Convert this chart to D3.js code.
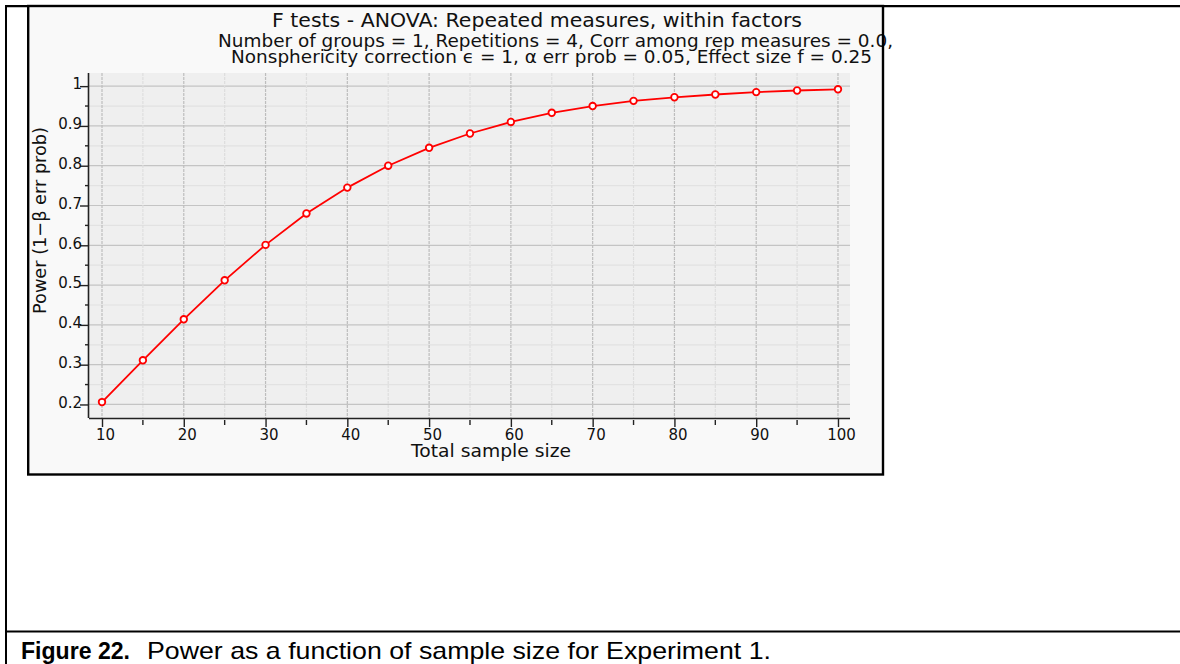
<!DOCTYPE html>
<html>
<head>
<meta charset="utf-8">
<script src="https://cdn.jsdelivr.net/npm/d3@7"></script>
<style>
body{ margin:0; background:#fff; }
svg{ display:block; }
.chart text{ font-family:"DejaVu Sans", sans-serif; fill:#111; }
</style>
</head>
<body>
<svg id="page" width="1180" height="664"></svg>
<script>
var sampleSize = [10, 15, 20, 25, 30, 35, 40, 45, 50, 55, 60, 65, 70, 75, 80, 85, 90, 95, 100];
var power = [0.206, 0.311, 0.414, 0.512, 0.601, 0.680, 0.745, 0.800, 0.845, 0.881, 0.910, 0.933, 0.950, 0.963, 0.972, 0.979, 0.985, 0.989, 0.992];

var xTicks = [10, 20, 30, 40, 50, 60, 70, 80, 90, 100];
var xTickLabels = ['10', '20', '30', '40', '50', '60', '70', '80', '90', '100'];
var xMinor = [15, 25, 35, 45, 55, 65, 75, 85, 95];
var yTicks = [0.2, 0.3, 0.4, 0.5, 0.6, 0.7, 0.8, 0.9, 1];
var yTickLabels = ['0.2', '0.3', '0.4', '0.5', '0.6', '0.7', '0.8', '0.9', '1'];
var yMinor = [0.25, 0.35, 0.45, 0.55, 0.65, 0.75, 0.85, 0.95];

var titleLines = [
	'F tests - ANOVA: Repeated measures, within factors',
	'Number of groups = 1, Repetitions = 4, Corr among rep measures = 0.0,',
	'Nonsphericity correction \u03f5 = 1, \u03b1 err prob = 0.05, Effect size f = 0.25'
];
var xTitle = 'Total sample size';
var yTitle = 'Power (1\u2212\u03b2 err prob)';
var captionBold = 'Figure 22.';
var captionText = 'Power as a function of sample size for Experiment 1.';

var svg = d3.select('#page');

// page frame (table cell lines)
svg.append('line').attr('x1', 6).attr('x2', 1180).attr('y1', 6.2).attr('y2', 6.2)
	.attr('stroke', '#000').attr('stroke-width', 2.2);
svg.append('line').attr('x1', 6).attr('x2', 6).attr('y1', 5).attr('y2', 664)
	.attr('stroke', '#000').attr('stroke-width', 2);
svg.append('line').attr('x1', 6).attr('x2', 1180).attr('y1', 631.5).attr('y2', 631.5)
	.attr('stroke', '#000').attr('stroke-width', 2.2);

var chart = svg.append('g').attr('class', 'chart');
chart.append('rect').attr('x', 28).attr('y', 7).attr('width', 855).attr('height', 467.5)
	.attr('fill', '#f9f9f9');

var plot = {left: 89, right: 850, top: 73, bottom: 418};
var xScale = d3.scaleLinear().domain([8.41, 101.47]).range([plot.left, plot.right]);
var yScale = d3.scaleLinear().domain([0.166, 1.033]).range([plot.bottom, plot.top]);

chart.append('rect').attr('x', plot.left).attr('y', plot.top)
	.attr('width', plot.right - plot.left).attr('height', plot.bottom - plot.top)
	.attr('fill', '#efefef');

//Grid lines
var grid = chart.append('g');
grid.selectAll('line.hmin').data(yMinor).enter().append('line')
	.attr('x1', plot.left).attr('x2', plot.right)
	.attr('y1', function(d){ return yScale(d); }).attr('y2', function(d){ return yScale(d); })
	.attr('stroke', '#e2e2e2').attr('stroke-width', 1.2);
grid.selectAll('line.hmaj').data(yTicks).enter().append('line')
	.attr('x1', plot.left).attr('x2', plot.right)
	.attr('y1', function(d){ return yScale(d); }).attr('y2', function(d){ return yScale(d); })
	.attr('stroke', '#c4c4c4').attr('stroke-width', 1.2);
grid.selectAll('line.vmin').data(xMinor).enter().append('line')
	.attr('y1', plot.top).attr('y2', plot.bottom)
	.attr('x1', function(d){ return xScale(d); }).attr('x2', function(d){ return xScale(d); })
	.attr('stroke', '#dedede').attr('stroke-width', 1.2).attr('stroke-dasharray', '3,1');
grid.selectAll('line.vmaj').data(xTicks).enter().append('line')
	.attr('y1', plot.top).attr('y2', plot.bottom)
	.attr('x1', function(d){ return xScale(d); }).attr('x2', function(d){ return xScale(d); })
	.attr('stroke', '#bdbdbd').attr('stroke-width', 1.2).attr('stroke-dasharray', '3,1');

// curve + markers
var pts = sampleSize.map(function(d, i){ return {n: d, p: power[i]}; });
var line = d3.line().x(function(d){ return xScale(d.n); }).y(function(d){ return yScale(d.p); });
chart.append('path').datum(pts).attr('d', line)
	.attr('fill', 'none').attr('stroke', '#ff0000').attr('stroke-width', 1.8);
chart.selectAll('circle').data(pts).enter().append('circle')
	.attr('cx', function(d){ return xScale(d.n); })
	.attr('cy', function(d){ return yScale(d.p); })
	.attr('r', 3.3)
	.attr('fill', '#fff').attr('stroke', '#ff0000').attr('stroke-width', 1.8);

// axes
var xAxis = d3.axisBottom(xScale).tickValues(xTicks).tickSize(9).tickPadding(2)
	.tickFormat(function(d, i){ return xTickLabels[i]; });
var gx = chart.append('g').attr('transform', 'translate(0,' + plot.bottom + ')').call(xAxis);
gx.select('.domain').attr('d', 'M' + plot.left + ',0.5H' + plot.right).attr('stroke', '#222').attr('stroke-width', 1.6);
gx.selectAll('.tick line').attr('stroke', '#222').attr('stroke-width', 1.4);
gx.selectAll('.tick text').attr('dx', 3).style('font-size', '15px').style('font-family', '"DejaVu Sans", sans-serif').attr('fill', '#111');
gx.selectAll('line.minor').data(xMinor).enter().append('line')
	.attr('x1', function(d){ return xScale(d); }).attr('x2', function(d){ return xScale(d); })
	.attr('y1', 2).attr('y2', 7).attr('stroke', '#222').attr('stroke-width', 1.4);

var yAxis = d3.axisLeft(yScale).tickValues(yTicks).tickSize(9).tickPadding(-2)
	.tickFormat(function(d, i){ return yTickLabels[i]; });
var gy = chart.append('g').attr('transform', 'translate(' + plot.left + ',0)').call(yAxis);
gy.select('.domain').attr('d', 'M-0.5,' + plot.top + 'V' + plot.bottom).attr('stroke', '#222').attr('stroke-width', 1.6);
gy.selectAll('.tick line').attr('stroke', '#222').attr('stroke-width', 1.4);
gy.selectAll('.tick text').attr('dy', '0.18em').style('font-size', '15px').style('font-family', '"DejaVu Sans", sans-serif').attr('fill', '#111');
gy.selectAll('line.minor').data(yMinor).enter().append('line')
	.attr('x1', -4).attr('x2', 0)
	.attr('y1', function(d){ return yScale(d); }).attr('y2', function(d){ return yScale(d); })
	.attr('stroke', '#222').attr('stroke-width', 1.4);

// titles (Lucida in the original runs wider than DejaVu, so stretch to the same span)
var tpos = [{x: 537, y: 26.5, s: 19.5, w: 530}, {x: 555.5, y: 46.5, s: 17.5, w: 675}, {x: 551.5, y: 63, s: 17.5, w: 641}];
chart.selectAll('text.title').data(titleLines).enter().append('text')
	.attr('class', 'title')
	.attr('x', function(d, i){ return tpos[i].x - tpos[i].w / 2; })
	.attr('y', function(d, i){ return tpos[i].y; })
	.attr('textLength', function(d, i){ return tpos[i].w; })
	.attr('lengthAdjust', 'spacingAndGlyphs')
	.style('font-size', function(d, i){ return tpos[i].s + 'px'; })
	.text(function(d){ return d; });

chart.append('text').attr('x', 411).attr('y', 456.5)
	.attr('textLength', 160).attr('lengthAdjust', 'spacingAndGlyphs')
	.style('font-size', '18px').text(xTitle);
chart.append('text').attr('transform', 'translate(46,314) rotate(-90)')
	.attr('textLength', 187).attr('lengthAdjust', 'spacingAndGlyphs')
	.style('font-size', '18px').text(yTitle);

// chart border drawn over the titles
chart.append('rect').attr('x', 28.2).attr('y', 6).attr('width', 854.8).attr('height', 468.5)
	.attr('fill', 'none').attr('stroke', '#000').attr('stroke-width', 2.4);

// caption
svg.append('text').attr('x', 21).attr('y', 659)
	.attr('textLength', 109).attr('lengthAdjust', 'spacingAndGlyphs')
	.style('font-family', '"Liberation Sans", sans-serif').style('font-weight', 'bold').style('font-size', '24px')
	.text(captionBold);
svg.append('text').attr('x', 147).attr('y', 659)
	.attr('textLength', 624).attr('lengthAdjust', 'spacingAndGlyphs')
	.style('font-family', '"Liberation Sans", sans-serif').style('font-size', '24px')
	.text(captionText);
</script>
</body>
</html>
